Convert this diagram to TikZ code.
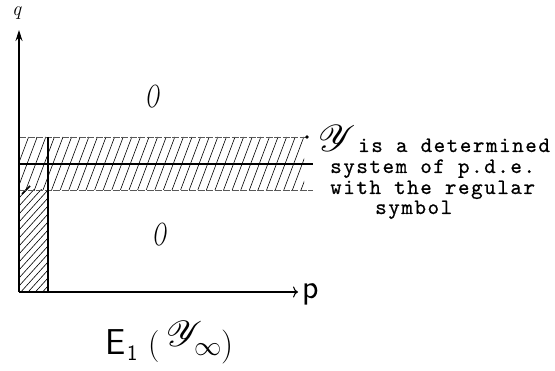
\documentclass[tikz,border=0pt]{standalone}
\usepackage{fontspec}
\usepackage{mathrsfs}
\usetikzlibrary{arrows.meta}
\newfontfamily\twfont[LetterSpace=7,FakeBold=0.6]{lmmono10-regular.otf}
\newcommand{\bigscr}[2]{\scalebox{#1}{\fontsize{24.88}{25}\selectfont$\mathscr{#2}$}}
\begin{document}
\begin{tikzpicture}[x=1pt,y=-1pt]
\tikzset{
  axisline/.style={line width=1.1pt, black},
  hatchline/.style={line width=0.6pt, black},
  bandedge/.style={line width=0.8pt, black!65, dash pattern=on 7pt off 1.5pt},
  midline/.style={line width=1.1pt, black},
  zerolabel/.style={font=\fontsize{32}{32}\selectfont\itshape, inner sep=0pt},
  twtext/.style={font=\fontsize{22}{22}\selectfont\twfont, anchor=base west, inner sep=0pt},
  hand/.style={inner sep=0pt, anchor=base west},
}
\useasboundingbox (0,0) rectangle (555,371);

% key coordinates
\coordinate (o) at (19,292);
\coordinate (qtip) at (19,30);
\coordinate (ptip) at (298,292);
\coordinate (bandTL) at (19,137);
\coordinate (bandTR) at (307,137);
\coordinate (midL) at (19,164);
\coordinate (midR) at (313,164);
\coordinate (botL) at (19,190);
\coordinate (botR) at (313,190);
\coordinate (vT) at (48,137);
\coordinate (vB) at (48,292);

% hatching of the band
\begin{scope}
  \clip (19,137) rectangle (304,190);
  \foreach \x in {0,8.6,...,330} {
    \draw[hatchline] (\x,190) -- (\x+20,137);
  }
\end{scope}
% hatching of the vertical strip
\begin{scope}
  \clip (19,190) rectangle (48,292);
  \foreach \y in {190,198,...,330} {
    \draw[hatchline] (19,\y) -- (48,\y-32);
  }
\end{scope}
\draw[line width=1.6pt] (22,194) -- (30,186);

% band edges
\draw[bandedge] (bandTL) -- (bandTR);
\fill (bandTR) circle (1.8pt);
\draw[midline] (midL) -- (midR);
\draw[bandedge] (botL) -- (botR);
\draw[line width=1.2pt] (vT) -- (vB);

% axes
\draw[axisline, -{Stealth[length=11pt,width=7pt]}] (o) -- (qtip);
\draw[axisline, -{To[length=5pt,width=11pt]}] (o) -- (ptip);

% axis labels
\node[hand] (qlab) at (12,16) {\fontsize{20}{20}\selectfont\itshape q};
\node[hand] (plab) at (302,299) {\fontsize{34}{34}\selectfont\sffamily p};

% region labels
\node[zerolabel] (o1) at (152,97) {\scalebox{0.6}[1]{O}};
\node[zerolabel] (o2) at (159,235) {\scalebox{0.6}[1]{O}};

% description
\node[hand] (ysym) at (318,152) {\bigscr{1.5}{Y}};
\node[twtext] (t1) at (358,152) {is a determined};
\node[twtext] (t2) at (330,173) {system of p.d.e.};
\node[twtext] (t3) at (330,194) {with the regular};
\node[twtext] (t4) at (375,214) {symbol};

% bottom label  E_1( Y_infty )
\node[hand] (eE) at (105,355) {\fontsize{36}{36}\selectfont\sffamily E};
\node[hand] (e1) at (127,361) {\fontsize{22}{22}\selectfont\sffamily 1};
\node[hand] (eL) at (148,355) {\fontsize{32}{32}\selectfont (};
\node[hand] (eY) at (166,347) {\bigscr{1.45}{Y}};
\node[hand] (eInf) at (194,356) {\scalebox{1.1}{\fontsize{24.88}{25}\selectfont$\infty$}};
\node[hand] (eR) at (221,356) {\fontsize{34}{34}\selectfont )};
\end{tikzpicture}
\end{document}
